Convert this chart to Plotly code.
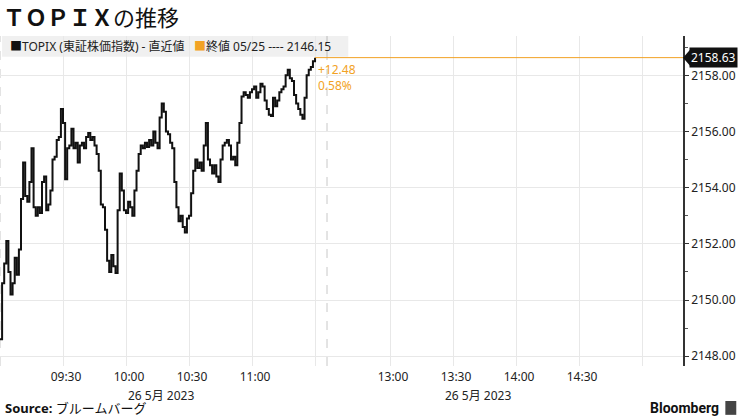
import pandas as pd
import plotly.graph_objects as go

# TOPIX 1-minute prices, morning session 26 May 2023 (09:00 - 11:30)
prices = [
    2148.6, 2150.6, 2151.3, 2152.1, 2151.0, 2150.2, 2150.6, 2151.5, 2150.9, 2151.8,
    2153.6, 2154.9, 2153.7, 2153.5, 2154.2, 2155.4, 2153.3, 2153.0, 2153.3, 2153.1,
    2154.2, 2154.4, 2153.2, 2153.4, 2153.9, 2155.0, 2155.1, 2155.7, 2155.8, 2156.8,
    2156.3, 2154.3, 2155.4, 2155.5, 2156.1, 2155.4, 2155.6, 2154.9, 2155.5, 2155.6,
    2155.4, 2155.8, 2155.95, 2155.7, 2155.8, 2155.5, 2155.2, 2154.6, 2153.4, 2153.3,
    2152.5, 2151.4, 2151.0, 2151.6, 2151.2, 2150.96, 2153.2, 2154.5, 2153.9, 2153.2,
    2153.1, 2153.5, 2153.3, 2153.0, 2153.9, 2154.6, 2155.2, 2155.5, 2155.4, 2155.6,
    2155.45, 2155.7, 2155.5, 2156.0, 2155.6, 2155.4, 2156.5, 2157.0, 2156.7, 2156.0,
    2155.9, 2155.6, 2155.4, 2154.2, 2153.3, 2152.8, 2153.0, 2152.6, 2152.4, 2152.9,
    2153.0, 2153.8, 2154.6, 2155.0, 2154.7, 2154.9, 2154.6, 2155.5, 2156.3, 2155.0,
    2154.8, 2154.5, 2154.8, 2154.4, 2154.2, 2155.0, 2155.5, 2155.6, 2155.7, 2155.5,
    2155.0, 2155.1, 2154.8, 2155.6, 2156.3, 2157.25, 2157.4, 2157.3, 2157.2, 2157.4,
    2157.5, 2157.6, 2157.2, 2157.4, 2157.7, 2157.6, 2157.1, 2156.8, 2156.6, 2156.55,
    2157.2, 2156.9, 2157.1, 2157.4, 2157.5, 2157.6, 2158.0, 2158.2, 2157.9, 2157.8,
    2157.3, 2157.0, 2156.8, 2156.6, 2156.45, 2157.2, 2158.0, 2158.2, 2158.3, 2158.5,
    2158.63,
]
prev_close = 2146.15
prev_date = "05/25"
chart_date = "26 5月 2023"

grid_times = ["09:30", "10:00", "10:30", "11:00", "11:30",
              "13:00", "13:30", "14:00", "14:30", "15:00"]
label_times = ["09:30", "10:00", "10:30", "11:00", "13:00", "13:30", "14:00", "14:30"]
session_marks = ["09:00", "12:30"]

LUNCH_GAP = 5.7  # lunch break squeezed to a few minutes on the axis


def pos(t):
    """Posizione sull'asse (minuti dalle 9:00, pausa pranzo compressa)."""
    h, m = map(int, t.split(":"))
    mins = (h - 9) * 60 + m
    if mins >= 210:
        mins = mins - 60 + LUNCH_GAP
    return mins


times = pd.date_range("2023-05-26 09:00", periods=len(prices), freq="1min")
xs = [pos(t.strftime("%H:%M")) for t in times]
x_end = 325.2

last = prices[-1]
chg = last - prev_close
pct = chg / prev_close * 100

ORANGE = "#f2a224"
FONT = "Noto Sans, Noto Sans CJK JP, sans-serif"

fig = go.Figure()
fig.add_trace(go.Scatter(
    x=xs, y=prices, mode="lines", line=dict(color="#111", width=2, shape="hv"),
    showlegend=False, hoverinfo="skip",
))
fig.add_trace(go.Scatter(
    x=[xs[-1], x_end], y=[last, last], mode="lines",
    line=dict(color=ORANGE, width=1), showlegend=False, hoverinfo="skip",
))

for t in session_marks:
    fig.add_shape(type="line", x0=pos(t), x1=pos(t), y0=0, y1=1, yref="paper",
                  line=dict(color="#c8c8c8", width=1, dash="dash"), layer="below")

# legend bar
fig.add_shape(type="rect", xref="paper", yref="paper", x0=0.003, x1=0.51,
              y0=0.937, y1=1.0, fillcolor="rgba(0,0,0,0.06)", line_width=0, layer="below")

fig.add_annotation(xref="paper", yref="paper", x=0.012, y=0.969, xanchor="left",
                   yanchor="middle", showarrow=False,
                   text=("<span style='color:#111'>■</span>TOPIX (東証株価指数) - 直近値"
                         f"   <span style='color:{ORANGE}'>■</span>終値 {prev_date} ---- {prev_close:.2f}"),
                   font=dict(family=FONT, size=12, color="#222"))

fig.add_annotation(xref="x", yref="y", x=xs[-1], y=last, xanchor="left", yanchor="top",
                   xshift=1, yshift=-1, showarrow=False, align="left",
                   text=f"+{chg:.2f}<br>{pct:.2f}%",
                   font=dict(family=FONT, size=12, color=ORANGE))

# last price tag
fig.add_annotation(xref="paper", yref="y", x=1, y=last, xanchor="left", yanchor="middle",
                   xshift=6, showarrow=False, text=f"{last:.2f}", bgcolor="#111",
                   borderpad=1, font=dict(family=FONT, size=12, color="white"))
fig.add_shape(type="path", xref="paper", yref="y", xsizemode="pixel", ysizemode="pixel",
              xanchor=1, yanchor=last, path="M 0 0 L 7 8 L 7 -8 Z",
              fillcolor="#111", line_width=0)

for xp in [0.236, 0.70]:
    fig.add_annotation(xref="paper", yref="paper", x=xp, y=-0.088, xanchor="center",
                       yanchor="middle", showarrow=False, text=chart_date,
                       font=dict(family=FONT, size=12, color="#222"))

fig.add_annotation(xref="paper", yref="paper", x=0.004, y=-0.128, xanchor="left",
                   yanchor="middle", showarrow=False, text="<b>Source:</b> ブルームバーグ",
                   font=dict(family=FONT, size=13, color="#111"))
fig.add_annotation(xref="paper", yref="paper", x=1.055, y=-0.127, xanchor="right",
                   yanchor="middle", showarrow=False, text="<b>Bloomberg</b>",
                   font=dict(family="Roboto, sans-serif", size=14, color="#111"))
fig.add_shape(type="rect", xref="paper", yref="paper", x0=1.062, x1=1.078,
              y0=-0.148, y1=-0.106, fillcolor="#444", line_width=0)

fig.update_layout(
    width=740, height=416,
    title=dict(text="<b>ＴＯＰＩＸ</b>の推移", x=0.004, xanchor="left", xref="container",
               y=0.975, yanchor="top", yref="container",
               font=dict(family="Noto Sans CJK JP", size=22, color="#111")),
    plot_bgcolor="white", paper_bgcolor="white",
    margin=dict(l=0, r=57, t=36, b=50),
    xaxis=dict(
        range=[0, x_end], tickvals=[pos(t) for t in grid_times],
        ticktext=[t if t in label_times else "" for t in grid_times],
        showgrid=True, gridcolor="#e8e8e8", zeroline=False, showline=False,
        ticks="", ticklabelshift=3, ticklabelstandoff=2,
        tickfont=dict(family=FONT, size=12, color="#222"),
    ),
    yaxis=dict(
        side="right", range=[2147.65, 2159.4], dtick=2, tick0=2148,
        tickformat=".2f", showgrid=True, gridcolor="#e8e8e8", zeroline=False,
        showline=True, linecolor="#333", linewidth=1.5,
        ticks="outside", ticklen=4, tickcolor="#333",
        minor=dict(dtick=1, ticks="outside", ticklen=3, tickcolor="#555", showgrid=False),
        tickfont=dict(family=FONT, size=12, color="#222"),
    ),
)

fig.write_html("out.html", config={"displayModeBar": False},
               post_script="document.body.style.margin='0';")
